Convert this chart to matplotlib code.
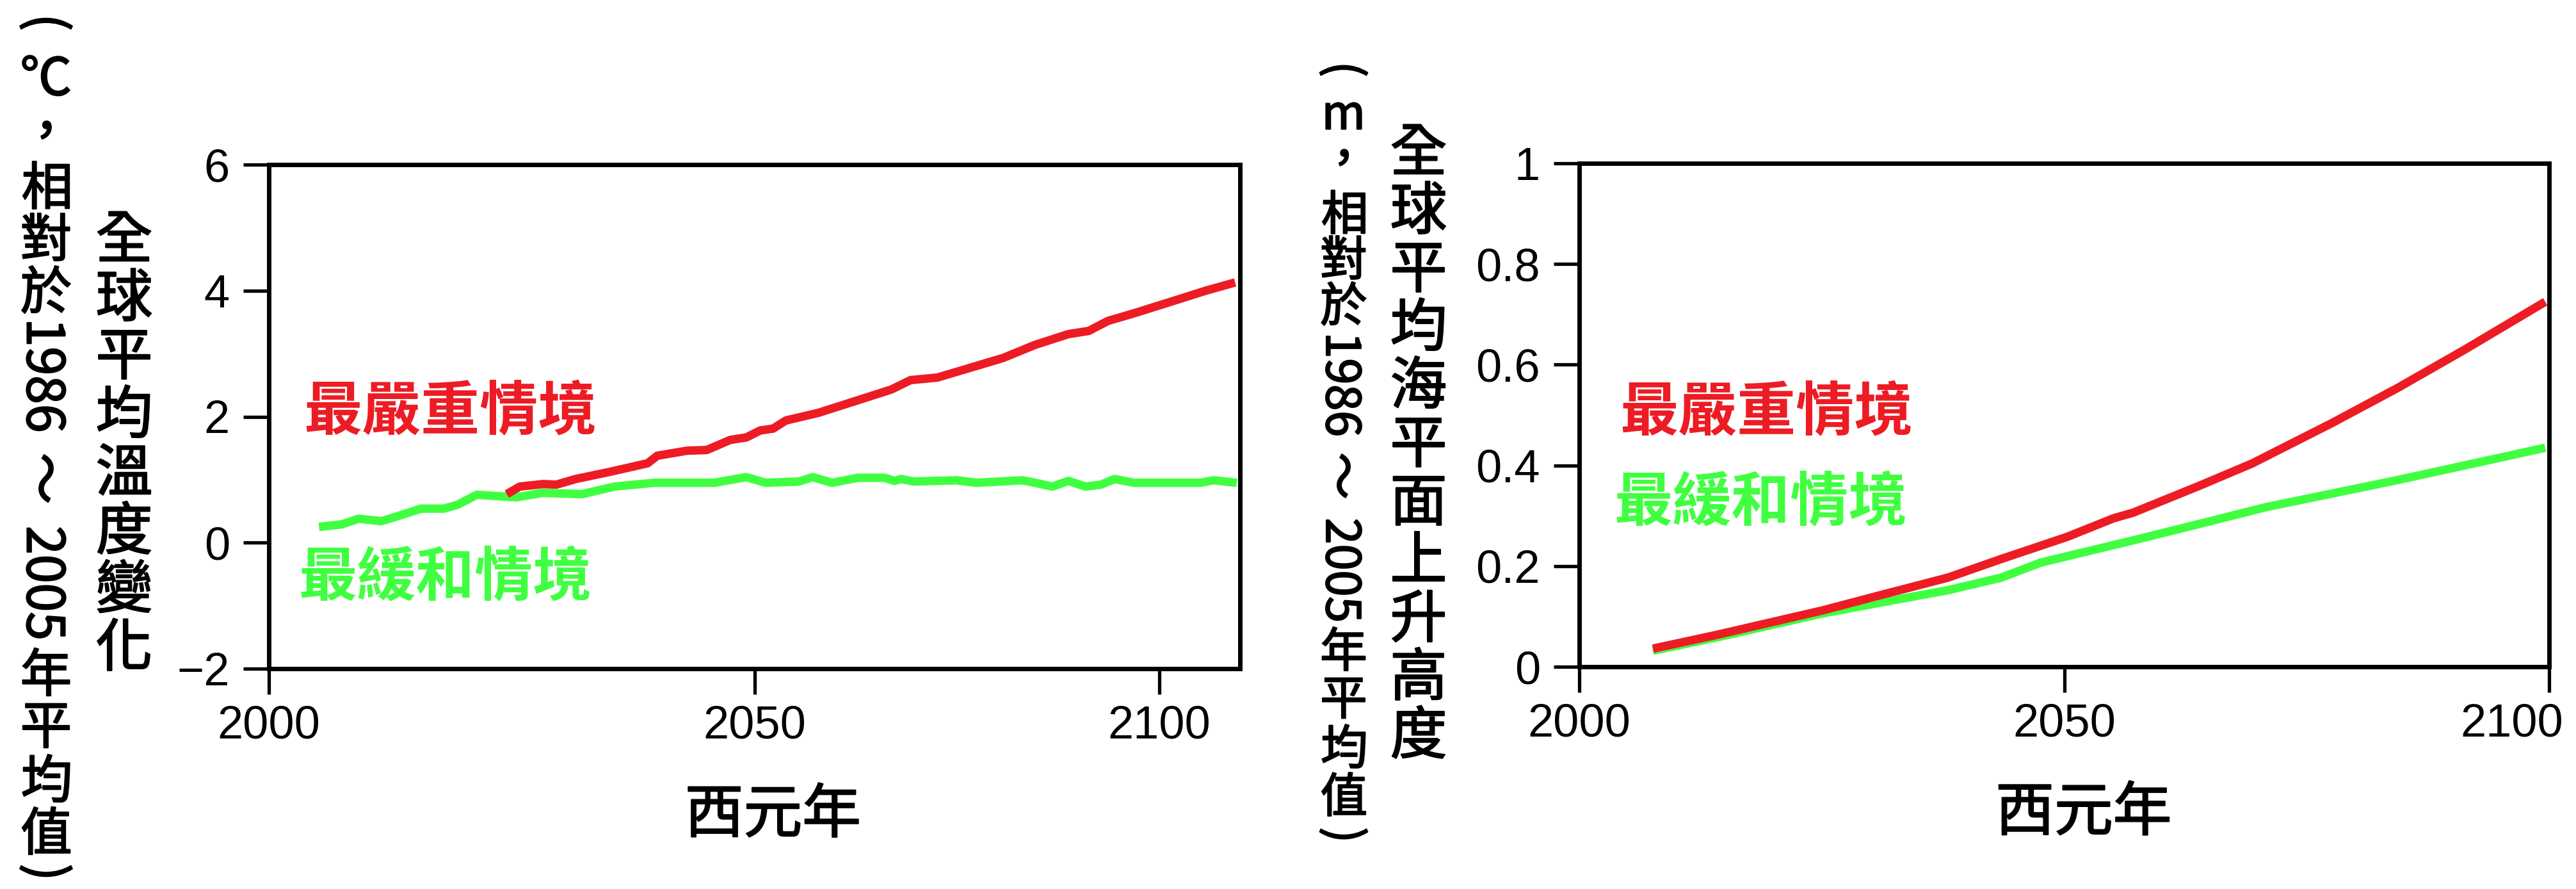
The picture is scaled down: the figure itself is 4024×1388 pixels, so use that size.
import matplotlib
matplotlib.use("Agg")
import matplotlib.pyplot as plt
import matplotlib.patheffects as pe
import matplotlib.transforms as mtransforms
from matplotlib.textpath import TextPath
from matplotlib.font_manager import FontProperties

W, H, DPI = 4024, 1388, 100
CJK = ["Noto Sans CJK TC", "DejaVu Sans"]
LAT = ["Liberation Sans", "Noto Sans CJK TC"]

RED = "#ED1C24"
GREEN = "#40FF40"
HEAVY = [pe.withStroke(linewidth=1.5, foreground="black")]

# global mean temperature change (deg C)
temp_low_years = [1996.2, 1999.0, 2001.1, 2003.9, 2006.4, 2008.8, 2011.6, 2013.3,
                  2015.7, 2020.6, 2023.8, 2028.7, 2032.7, 2037.6, 2045.0, 2049.0,
                  2051.4, 2055.5, 2057.2, 2059.6, 2062.8, 2066.1, 2067.3, 2068.1,
                  2069.7, 2075.0, 2077.4, 2083.1, 2084.7, 2086.8, 2088.8, 2090.9,
                  2092.8, 2094.5, 2096.9, 2105.1, 2106.7, 2109.6]
temp_low = [0.25, 0.29, 0.38, 0.34, 0.44, 0.54, 0.54, 0.60,
            0.76, 0.72, 0.79, 0.77, 0.89, 0.95, 0.95, 1.04,
            0.95, 0.97, 1.04, 0.95, 1.03, 1.03, 0.98, 1.01,
            0.97, 0.99, 0.95, 0.99, 0.95, 0.89, 0.98, 0.89,
            0.92, 1.01, 0.95, 0.95, 0.99, 0.95]

temp_high_years = [2019.4, 2021.0, 2023.9, 2025.5, 2027.9, 2032.0, 2036.8, 2038.0,
                   2041.7, 2044.1, 2047.0, 2049.0, 2050.7, 2052.3, 2053.9, 2057.9,
                   2066.9, 2069.3, 2072.6, 2080.7, 2084.7, 2088.8, 2091.3, 2093.7,
                   2096.9, 2102.6, 2105.8, 2109.4]
temp_high = [0.77, 0.89, 0.93, 0.92, 1.01, 1.12, 1.26, 1.38,
             1.46, 1.47, 1.63, 1.67, 1.78, 1.81, 1.94, 2.06,
             2.43, 2.58, 2.62, 2.93, 3.14, 3.31, 3.36, 3.52,
             3.64, 3.87, 4.00, 4.13]

# global mean sea level rise (m)
sea_high_years = [2007.6, 2014.1, 2025.1, 2031.2, 2038.0, 2043.5, 2050.3, 2055.1,
                  2057.1, 2064.0, 2069.4, 2077.6, 2084.4, 2091.3, 2099.6]
sea_high = [0.036, 0.063, 0.112, 0.143, 0.177, 0.214, 0.258, 0.295,
            0.306, 0.360, 0.404, 0.484, 0.554, 0.630, 0.725]

sea_low_years = [2007.6, 2014.1, 2025.1, 2031.2, 2038.0, 2043.5, 2047.6, 2057.1,
                 2064.0, 2070.8, 2077.6, 2084.4, 2091.3, 2099.6]
sea_low = [0.032, 0.058, 0.106, 0.128, 0.152, 0.177, 0.207, 0.251,
           0.284, 0.317, 0.344, 0.371, 0.400, 0.435]

temp_xticks = [1990, 2050, 2100]
temp_xlabels = ["2000", "2050", "2100"]
temp_yticks = [-2, 0, 2, 4, 6]
temp_ylabels = ["\u22122", "0", "2", "4", "6"]
sea_xticks = [2000, 2050, 2100]
sea_yticks = [0, 0.2, 0.4, 0.6, 0.8, 1]
sea_ylabels = ["0", "0.2", "0.4", "0.6", "0.8", "1"]

label_high = "最嚴重情境"
label_low = "最緩和情境"
xlabel = "西元年"
temp_title = "全球平均溫度變化"
sea_title = "全球平均海平面上升高度"
temp_unit = ["(", "℃", "，", "相", "對", "於", "1986", "～", "2005",
             "年", "平", "均", "值", ")"]
sea_unit = ["(", "m", "，", "相", "對", "於", "1986", "～", "2005",
            "年", "平", "均", "值", ")"]


def fx(px):
    return px / W


def fy(py):
    return 1 - py / H


def put(fig, s, cx, cy, size, rotated):
    # place a piece of vertical text so that its ink is centred on (cx, cy)
    fp = FontProperties(family=CJK, size=size)
    ext = TextPath((0, 0), s, size=size, prop=fp).get_extents()
    k = DPI / 72
    mx = (ext.x0 + ext.x1) / 2 * k
    my = (ext.y0 + ext.y1) / 2 * k
    yd = H - cy
    if rotated:
        x0, y0, rot = cx - my, yd + mx, -90
    else:
        x0, y0, rot = cx - mx, yd - my, 0
    fig.text(x0 / W, y0 / H, s, rotation=rot, rotation_mode="anchor",
             ha="left", va="baseline", fontsize=size, family=CJK,
             path_effects=HEAVY)


def vtitle(fig, xc, ytop, s, size, pitch):
    for i, ch in enumerate(s):
        fig.text(fx(xc), fy(ytop + pitch * (i + 0.5)), ch, ha="center", va="center",
                 fontsize=size, family=CJK, path_effects=HEAVY)


def style_axes(ax):
    for sp in ax.spines.values():
        sp.set_linewidth(5)
    ax.tick_params(direction="out", length=29, width=3.8, labelsize=52, pad=12)
    ax.tick_params(axis="y", pad=15)
    for lab in ax.get_xticklabels() + ax.get_yticklabels():
        lab.set_family(LAT)


def main():
    fig = plt.figure(figsize=(W / DPI, H / DPI), dpi=DPI)

    # left: temperature
    ax1 = fig.add_axes([fx(420), fy(1044), fx(1937) - fx(420), fy(257) - fy(1044)])
    ax1.plot(temp_low_years, temp_low, color=GREEN, lw=9.5,
             solid_joinstyle="round", solid_capstyle="butt")
    ax1.plot(temp_high_years, temp_high, color=RED, lw=9.5,
             solid_joinstyle="round", solid_capstyle="butt")
    ax1.set_xlim(1990, 2110)
    ax1.set_ylim(-2, 6)
    ax1.set_xticks(temp_xticks)
    ax1.set_xticklabels(temp_xlabels)
    ax1.set_yticks(temp_yticks)
    ax1.set_yticklabels(temp_ylabels)
    style_axes(ax1)
    ax1.text(2012.4, 2.06, label_high, color=RED, fontsize=66, weight="bold",
             family=CJK, ha="center", va="center")
    ax1.text(2011.8, -0.57, label_low, color=GREEN, fontsize=66, weight="bold",
             family=CJK, ha="center", va="center")
    ax1.set_xlabel(xlabel, fontsize=66, family=CJK, path_effects=HEAVY)
    ax1.xaxis.set_label_coords(0.519, -0.232)

    # right: sea level
    ax2 = fig.add_axes([fx(2467), fy(1041), fx(3982) - fx(2467), fy(255) - fy(1041)])
    ax2.plot(sea_low_years, sea_low, color=GREEN, lw=9.5,
             solid_joinstyle="round", solid_capstyle="butt")
    ax2.plot(sea_high_years, sea_high, color=RED, lw=9.5,
             solid_joinstyle="round", solid_capstyle="butt")
    ax2.set_xlim(2000, 2100)
    ax2.set_ylim(0, 1)
    ax2.set_xticks(sea_xticks)
    ax2.set_yticks(sea_yticks)
    ax2.set_yticklabels(sea_ylabels)
    style_axes(ax2)
    last = ax2.get_xticklabels()[-1]
    last.set_horizontalalignment("right")
    last.set_transform(last.get_transform()
                       + mtransforms.ScaledTranslation(22 / DPI, 0, fig.dpi_scale_trans))
    ax2.text(2019.3, 0.503, label_high, color=RED, fontsize=66, weight="bold",
             family=CJK, ha="center", va="center")
    ax2.text(2018.7, 0.324, label_low, color=GREEN, fontsize=66, weight="bold",
             family=CJK, ha="center", va="center")
    ax2.set_xlabel(xlabel, fontsize=66, family=CJK, path_effects=HEAVY)
    ax2.xaxis.set_label_coords(0.52, -0.232)

    # vertical y labels
    vtitle(fig, 194, 332, temp_title, 64, 91)
    vtitle(fig, 2216, 196, sea_title, 64, 91)

    temp_unit_y = [37, 118, 203, 289, 370, 452, 588, 747, 910,
                   1049, 1133, 1215, 1297, 1360]
    sea_unit_y = [110, 181, 246, 331, 402, 474, 602, 743, 890,
                  1013, 1090, 1165, 1240, 1302]
    sideways = {"(", ")", "1986", "～", "2005"}
    for s, y in zip(temp_unit, temp_unit_y):
        put(fig, s, 72, y, 58, s in sideways)
    for s, y in zip(sea_unit, sea_unit_y):
        put(fig, s, 2099, y, 53, s in sideways)

    fig.savefig("out.png", dpi=DPI)
    plt.close(fig)


if __name__ == "__main__":
    main()
